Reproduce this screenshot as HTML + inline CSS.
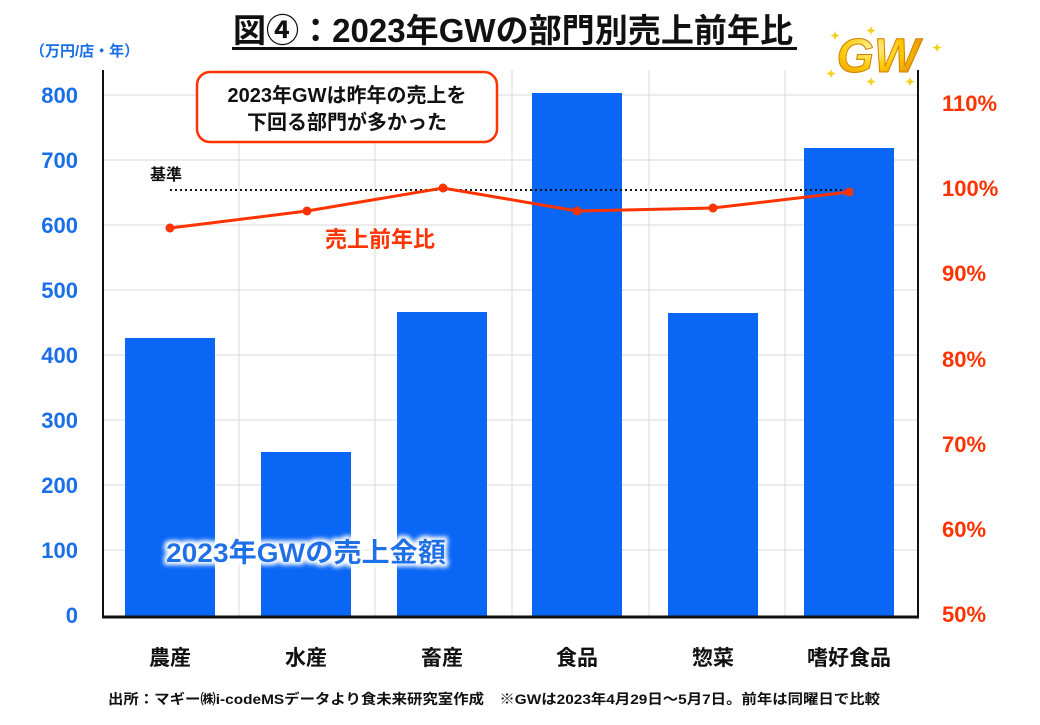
<!DOCTYPE html>
<html><head><meta charset="utf-8"><style>
body{margin:0;background:#fff;}
svg text{font-family:"Liberation Sans","Noto Sans CJK JP",sans-serif;font-weight:bold;}
</style></head><body>
<svg width="1040" height="720" viewBox="0 0 1040 720" xmlns="http://www.w3.org/2000/svg">
<rect width="1040" height="720" fill="#fff"/>
<defs><filter id="glow" x="-20%" y="-50%" width="140%" height="200%"><feMorphology operator="dilate" radius="3" in="SourceAlpha" result="d"/><feGaussianBlur in="d" stdDeviation="2" result="b"/><feFlood flood-color="#fff"/><feComposite in2="b" operator="in" result="w"/><feMerge><feMergeNode in="w"/><feMergeNode in="SourceGraphic"/></feMerge></filter>
<radialGradient id="gold" cx="40%" cy="35%" r="70%"><stop offset="0" stop-color="#fff6a0"/><stop offset="0.5" stop-color="#ffc800"/><stop offset="1" stop-color="#e08a00"/></radialGradient></defs>
<text x="513" y="42" font-size="33" text-anchor="middle" fill="#111" textLength="560" lengthAdjust="spacingAndGlyphs">図④：2023年GWの部門別売上前年比</text>
<rect x="232" y="47" width="565" height="3" fill="#111"/>
<text x="878" y="72" font-size="48" text-anchor="middle" fill="url(#gold)" stroke="#d08000" stroke-width="1" font-style="italic">GW</text>
<g fill="#f5d020" font-size="12"><text x="830" y="40">✦</text><text x="866" y="35">✦</text><text x="932" y="52">✦</text><text x="826" y="78">✦</text><text x="866" y="86">✦</text><text x="905" y="86">✦</text></g>
<text x="30" y="56" font-size="15" fill="#1a6fe8">（万円/店・年）</text>
<g stroke="#d9d9d9" stroke-width="1">
<line x1="103" y1="95" x2="918" y2="95"/><line x1="103" y1="160" x2="918" y2="160"/><line x1="103" y1="225" x2="918" y2="225"/><line x1="103" y1="290" x2="918" y2="290"/><line x1="103" y1="355" x2="918" y2="355"/><line x1="103" y1="420" x2="918" y2="420"/><line x1="103" y1="485" x2="918" y2="485"/><line x1="103" y1="550" x2="918" y2="550"/>
<line x1="239" y1="70" x2="239" y2="617"/><line x1="375" y1="70" x2="375" y2="617"/><line x1="512" y1="70" x2="512" y2="617"/><line x1="649" y1="70" x2="649" y2="617"/><line x1="785" y1="70" x2="785" y2="617"/>
</g>
<g fill="#0a66f5">
<rect x="125" y="338" width="90" height="279"/><rect x="261" y="452" width="90" height="165"/><rect x="397" y="312" width="90" height="305"/><rect x="532" y="93" width="90" height="524"/><rect x="668" y="313" width="90" height="304"/><rect x="804" y="148" width="90" height="469"/>
</g>
<line x1="103" y1="70" x2="103" y2="618" stroke="#111" stroke-width="2"/>
<line x1="918" y1="70" x2="918" y2="618" stroke="#111" stroke-width="2"/>
<line x1="102" y1="617" x2="919" y2="617" stroke="#111" stroke-width="3"/>
<g font-size="22" fill="#1a6fe8" text-anchor="end">
<text x="78" y="103">800</text><text x="78" y="168">700</text><text x="78" y="233">600</text><text x="78" y="298">500</text><text x="78" y="363">400</text><text x="78" y="428">300</text><text x="78" y="493">200</text><text x="78" y="558">100</text><text x="78" y="623">0</text>
</g>
<g font-size="22" fill="#ff3300" text-anchor="start">
<text x="942" y="111">110%</text><text x="942" y="196">100%</text><text x="942" y="281">90%</text><text x="942" y="367">80%</text><text x="942" y="452">70%</text><text x="942" y="537">60%</text><text x="942" y="622">50%</text>
</g>
<g font-size="21" fill="#111" text-anchor="middle">
<text x="170" y="665">農産</text><text x="306" y="665">水産</text><text x="442" y="665">畜産</text><text x="577" y="665">食品</text><text x="713" y="665">惣菜</text><text x="849" y="665">嗜好食品</text>
</g>
<line x1="170" y1="190" x2="849" y2="190" stroke="#111" stroke-width="2" stroke-dasharray="2,3"/>
<text x="150" y="180" font-size="16" fill="#111">基準</text>
<polyline points="170,228 307,211 443,188 577,211 713,208 849,192" fill="none" stroke="#ff3300" stroke-width="3"/>
<g fill="#ff3300"><circle cx="170" cy="228" r="4.5"/><circle cx="307" cy="211" r="4.5"/><circle cx="443" cy="188" r="4.5"/><circle cx="577" cy="211" r="4.5"/><circle cx="713" cy="208" r="4.5"/><circle cx="849" cy="192" r="4.5"/></g>
<text x="325" y="247" font-size="22" fill="#ff3300">売上前年比</text>
<rect x="197" y="72" width="300" height="70" rx="13" fill="#fff" stroke="#ff3300" stroke-width="2.5"/>
<text x="347" y="102" font-size="20" fill="#111" text-anchor="middle">2023年GWは昨年の売上を</text>
<text x="347" y="129" font-size="20" fill="#111" text-anchor="middle">下回る部門が多かった</text>
<text x="166" y="562" font-size="27" fill="#1a6fe8" filter="url(#glow)" textLength="280" lengthAdjust="spacingAndGlyphs">2023年GWの売上金額</text>
<text x="108" y="704" font-size="14" fill="#111" textLength="772" lengthAdjust="spacingAndGlyphs">出所：マギー㈱i-codeMSデータより食未来研究室作成　※GWは2023年4月29日～5月7日。前年は同曜日で比較</text>
</svg>
</body></html>
